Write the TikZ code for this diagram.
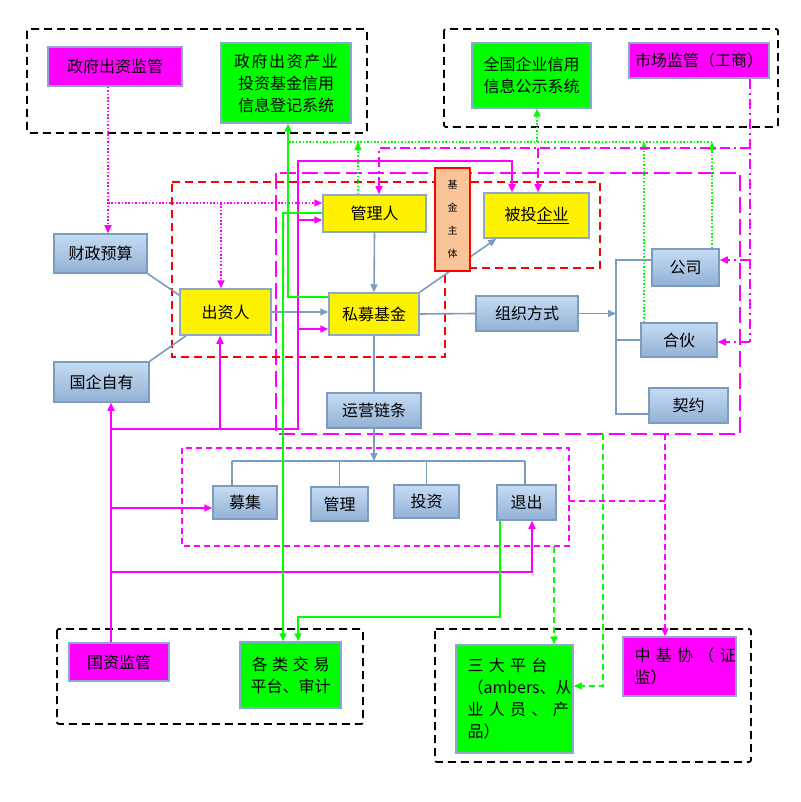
\documentclass[tikz,border=0pt]{standalone}
\usepackage{fontspec}
\setmainfont{Noto Sans CJK SC}
\newfontfamily\spacedcjk[LetterSpace=10]{Noto Sans CJK SC}
\usetikzlibrary{arrows.meta}

\newlength{\du}
\setlength{\du}{1pt}

\definecolor{magline}{rgb}{1.000000, 0.000000, 1.000000}
\definecolor{grnline}{rgb}{0.000000, 1.000000, 0.000000}
\definecolor{boxedge}{RGB}{140,168,204}
\definecolor{bluedge}{RGB}{124,155,193}
\definecolor{blutop}{RGB}{198,219,242}
\definecolor{blubot}{RGB}{146,177,214}
\definecolor{peach}{RGB}{250,196,152}

\tikzset{
  box/.style={draw=boxedge, line width=1.5\du, inner sep=0pt, align=center,
    font=\fontsize{16}{22}\selectfont},
  magbox/.style={box, fill=magline},
  grnbox/.style={box, fill=grnline},
  yelbox/.style={box, fill=yellow},
  blubox/.style={box, draw=bluedge, top color=blutop, bottom color=blubot},
  arr/.style={-{Triangle[length=8pt,width=7pt]}},
  bluline/.style={draw=bluedge, line width=1.6\du},
  magsolid/.style={draw=magline, line width=1.6\du},
  magdot/.style={magsolid, dash pattern=on 1.6\du off 1.8\du},
  magdash/.style={magsolid, dash pattern=on 6\du off 4\du},
  maglong/.style={magsolid, dash pattern=on 16\du off 6\du},
  magdd/.style={magsolid, dash pattern=on 10\du off 4\du on 2\du off 4\du},
  grnsolid/.style={draw=grnline, line width=1.6\du},
  grndot/.style={grnsolid, dash pattern=on 1.6\du off 1.8\du},
  grndash/.style={grnsolid, dash pattern=on 6\du off 4\du},
  redframe/.style={draw=red, line width=1.6\du, dash pattern=on 8\du off 5\du},
  blkframe/.style={draw=black, line width=1.8\du, dash pattern=on 8\du off 5\du, rounded corners=2\du}
}

\begin{document}
\begin{tikzpicture}
\pgftransformxscale{1.000000}
\pgftransformyscale{-1.000000}
\fill[white] (0\du,0\du) rectangle (800\du,802\du);
\useasboundingbox (0\du,0\du) rectangle (800\du,802\du);

% frames
\draw[blkframe] (27\du,29\du) rectangle (367\du,133\du);
\draw[blkframe] (444\du,29\du) rectangle (778\du,127\du);
\draw[blkframe] (57\du,629\du) rectangle (363\du,724\du);
\draw[blkframe] (435\du,629\du) rectangle (751\du,762\du);
\draw[maglong] (276\du,173\du) rectangle (740\du,434\du);
\draw[redframe] (172\du,182\du)--(600\du,182\du)--(600\du,268\du)--(445\du,268\du)--(445\du,357\du)--(172\du,357\du)--cycle;
\draw[magdash] (182\du,448\du) rectangle (569\du,546\du);

% supervisors and systems
\node[magbox, minimum width=134\du, minimum height=39\du] (zfjg) at (115\du,66.5\du) {政府出资监管};
\node[grnbox, minimum width=130\du, minimum height=80\du] (djxt) at (286\du,83\du) {\spacedcjk 政府出资产业\\投资基金信用\\信息登记系统};
\node[grnbox, minimum width=119\du, minimum height=65\du] (qgxt) at (531.5\du,75.5\du) {全国企业信用\\信息公示系统};
\node[magbox, minimum width=140\du, minimum height=35\du] (scjg) at (699\du,60.5\du) {市场监管（工商）};
\node[magbox, minimum width=100\du, minimum height=38\du] (gzjg) at (119\du,662\du) {国资监管};
\node[grnbox, minimum width=101\du, minimum height=66\du] (jypt) at (290.5\du,675\du) {\makebox[78\du][s]{各 类 交 易}\\平台、审计};
\node[grnbox, minimum width=117\du, minimum height=108\du, align=left, text width=94\du] (sdpt) at (514.5\du,699\du) {\makebox[94\du][s]{三 大 平 台}\\（ambers、从\\\makebox[94\du][s]{业 人 员 、 产}\\品）};
\node[magbox, minimum width=113\du, minimum height=59\du, align=left, text width=90\du] (zjx) at (679.5\du,666.5\du) {\makebox[90\du][s]{中 基 协 （ 证}\\监）};

% fund parties
\node[yelbox, minimum width=103\du, minimum height=37\du] (glr) at (374.5\du,213.5\du) {管理人};
\node[yelbox, minimum width=90\du, minimum height=42\du] (smjj) at (374\du,314\du) {私募基金};
\node[yelbox, minimum width=91\du, minimum height=46\du] (czr) at (225.5\du,312\du) {出资人};
\node[yelbox, minimum width=105\du, minimum height=45\du] (btqy) at (536.5\du,215.5\du) {被投\underline{企业}};
\node[blubox, minimum width=93\du, minimum height=39\du] (czys) at (100.5\du,253.5\du) {财政预算};
\node[blubox, minimum width=95\du, minimum height=40\du] (gqzy) at (101.5\du,382\du) {国企自有};

% organisation and operation
\node[blubox, minimum width=102\du, minimum height=35\du] (zzfs) at (527\du,313.5\du) {组织方式};
\node[blubox, minimum width=67\du, minimum height=37\du] (gs) at (685.5\du,267.5\du) {公司};
\node[blubox, minimum width=76\du, minimum height=34\du] (hh) at (679\du,340\du) {合伙};
\node[blubox, minimum width=79\du, minimum height=35\du] (qy) at (688.5\du,405.5\du) {契约};
\node[blubox, minimum width=94\du, minimum height=35\du] (yylt) at (374\du,410.5\du) {运营链条};
\node[blubox, minimum width=64\du, minimum height=33\du] (mj) at (245\du,502.5\du) {募集};
\node[blubox, minimum width=57\du, minimum height=34\du] (gl) at (339.5\du,504\du) {管理};
\node[blubox, minimum width=65\du, minimum height=33\du] (tz) at (426.5\du,501.5\du) {投资};
\node[blubox, minimum width=59\du, minimum height=35\du] (tc) at (526.5\du,502.5\du) {退出};

% blue connectors
\draw[bluline] (czys.south east) -- (czr.160);
\draw[bluline] (gqzy.north east) -- (czr.-149);
\draw[bluline,arr] (czr.east) -- (smjj.west |- czr.east);
\draw[bluline,arr] (glr.south) -- (smjj.north);
\draw[bluline,arr] (smjj.north east) -- (btqy.-150);
\node[box, draw=red, fill=peach, minimum width=35\du, minimum height=103\du, font=\fontsize{10}{23}\selectfont] (jjzt) at (452.5\du,219.5\du) {基\\金\\主\\体};
\draw[bluline] (smjj.east) -- (zzfs.west);
\coordinate (orgbar) at (616\du,313.5\du);
\coordinate (orgtop) at (616\du,260\du);
\coordinate (orgbot) at (616\du,414\du);
\draw[bluline,arr] (zzfs.east) -- (orgbar);
\draw[bluline] (gs.west |- orgtop) -- (orgtop) -- (orgbot) -- (qy.west |- orgbot);
\draw[bluline] (orgbar |- hh.west) -- (hh.west);
\draw[bluline] (smjj.south) -- (yylt.north);
\coordinate (chainl) at (232\du,461\du);
\coordinate (chainr) at (525\du,461\du);
\draw[bluline,arr] (yylt.south) -- (yylt.south |- chainl);
\draw[bluline] (chainl) -- (chainr);
\draw[bluline] (chainl) -- (mj.north -| chainl);
\draw[bluline] (gl.north |- chainl) -- (gl.north);
\draw[bluline] (tz.north |- chainl) -- (tz.north);
\draw[bluline] (chainr) -- (tc.north -| chainr);

% magenta dotted
\coordinate (fdown) at (108\du,203\du);
\coordinate (fczr) at (221\du,203\du);
\draw[magdot,arr] (zfjg.south -| fdown) -- (czys.north -| fdown);
\draw[magdot,arr] (fdown) -- (glr.west |- fdown);
\draw[magdot,arr] (fczr) -- (czr.north -| fczr);

% magenta solid
\coordinate (gzl) at (111\du,429\du);
\coordinate (gzr) at (298\du,429\du);
\coordinate (gztop) at (298\du,161\du);
\coordinate (gzbt) at (512\du,161\du);
\coordinate (gzczr) at (220\du,429\du);
\coordinate (gzglr) at (298\du,220\du);
\coordinate (gzsm) at (298\du,329\du);
\coordinate (gzmj) at (111\du,508\du);
\coordinate (gzlow) at (111\du,572\du);
\coordinate (gztc) at (532\du,572\du);
\draw[magsolid,arr] (gzjg.north -| gzl) -- (gqzy.south -| gzl);
\draw[magsolid,arr] (gzl) -- (gzr) -- (gztop) -- (gzbt) -- (btqy.north -| gzbt);
\draw[magsolid,arr] (gzczr) -- (czr.south -| gzczr);
\draw[magsolid,arr] (gzglr) -- (glr.west |- gzglr);
\draw[magsolid,arr] (gzsm) -- (smjj.west |- gzsm);
\draw[magsolid,arr] (gzmj) -- (mj.west |- gzmj);
\draw[magsolid,arr] (gzlow) -- (gztc) -- (tc.south -| gztc);

% green solid
\coordinate (djbend) at (288\du,297\du);
\coordinate (glbend) at (283\du,213\du);
\coordinate (tcbend) at (500\du,617\du);
\coordinate (jybend) at (298\du,617\du);
\draw[grnsolid,arr] (smjj.west |- djbend) -- (djbend) -- (djxt.south -| djbend);
\draw[grnsolid,arr] (glr.west |- glbend) -- (glbend) -- (jypt.north -| glbend);
\draw[grnsolid,arr] (tc.south -| tcbend) -- (tcbend) -- (jybend) -- (jypt.north -| jybend);

% green dotted
\coordinate (gdl) at (289\du,142\du);
\coordinate (gdr) at (712\du,142\du);
\coordinate (gdglr) at (358\du,142\du);
\coordinate (gdhh) at (644\du,142\du);
\coordinate (gdqg) at (537\du,142\du);
\draw[grndot] (gdl) -- (gdr);
\draw[grndot,arr] (glr.north -| gdglr) -- (gdglr);
\draw[grndot,arr] (hh.north -| gdhh) -- (gdhh);
\draw[grndot,arr] (gs.north -| gdr) -- (gdr);
\draw[grndot,arr] (gdqg) -- (qgxt.south -| gdqg);

% magenta dash-dot
\coordinate (sctop) at (750\du,148\du);
\coordinate (scglr) at (379\du,148\du);
\coordinate (scbt) at (538\du,148\du);
\coordinate (scgs) at (750\du,260\du);
\coordinate (schh) at (750\du,342\du);
\draw[magdd] (scjg.south -| sctop) -- (schh);
\draw[magdd,arr] (sctop) -- (scglr) -- (glr.north -| scglr);
\draw[magdd,arr] (scbt) -- (btqy.north -| scbt);
\draw[magdd,arr] (scgs) -- (gs.east |- scgs);
\draw[magdd,arr] (schh) -- (hh.east |- schh);

% magenta dashed to 中基协
\coordinate (xhtop) at (665\du,434\du);
\coordinate (xhmid) at (665\du,501\du);
\coordinate (xhbox) at (569\du,501\du);
\draw[magdash,arr] (xhtop) -- (zjx.north -| xhtop);
\draw[magdash] (xhbox) -- (xhmid);

% green dashed
\coordinate (sdtop) at (554\du,547\du);
\coordinate (sdr1) at (603\du,434\du);
\coordinate (sdr2) at (603\du,686\du);
\draw[grndash,arr] (sdtop) -- (sdpt.north -| sdtop);
\draw[grndash,arr] (sdr1) -- (sdr2) -- (sdpt.east |- sdr2);
\end{tikzpicture}
\end{document}
